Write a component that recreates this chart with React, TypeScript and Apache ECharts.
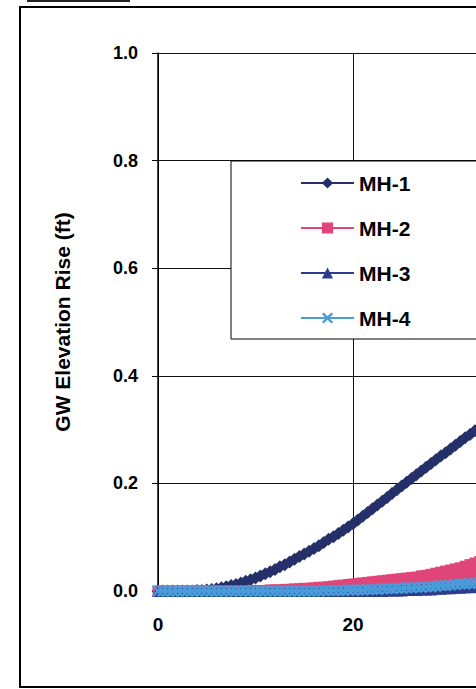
import React, { useEffect, useRef } from "react";
import * as echarts from "echarts";

// Time (x) values, read every 0.5 unit
const xs = [
  0, 0.5, 1, 1.5, 2, 2.5, 3, 3.5, 4, 4.5,
  5, 5.5, 6, 6.5, 7, 7.5, 8, 8.5, 9, 9.5,
  10, 10.5, 11, 11.5, 12, 12.5, 13, 13.5, 14, 14.5,
  15, 15.5, 16, 16.5, 17, 17.5, 18, 18.5, 19, 19.5,
  20, 20.5, 21, 21.5, 22, 22.5, 23, 23.5, 24, 24.5,
  25, 25.5, 26, 26.5, 27, 27.5, 28, 28.5, 29, 29.5,
  30, 30.5, 31, 31.5, 32, 32.5, 33, 33.5, 34,
];

const mh1 = [
  0, 0, 0, 0, 0, 0, 0, 0, 0.001, 0.001,
  0.002, 0.003, 0.004, 0.006, 0.008, 0.01, 0.012, 0.015, 0.018, 0.021,
  0.024, 0.028, 0.032, 0.036, 0.04, 0.045, 0.049, 0.054, 0.059, 0.064,
  0.069, 0.074, 0.079, 0.084, 0.09, 0.096, 0.101, 0.107, 0.113, 0.119,
  0.125, 0.132, 0.139, 0.146, 0.153, 0.16, 0.167, 0.174, 0.181, 0.188,
  0.195, 0.202, 0.209, 0.216, 0.223, 0.23, 0.237, 0.244, 0.251, 0.257,
  0.264, 0.271, 0.278, 0.285, 0.291, 0.298, 0.305, 0.311, 0.318,
];

const mh2 = [
  0, 0, 0, 0, 0, 0, 0, 0, 0, 0,
  0, 0, 0, 0, 0, 0, 0, 0, 0, 0,
  0.001, 0.001, 0.001, 0.002, 0.002, 0.002, 0.003, 0.003, 0.004, 0.004,
  0.005, 0.005, 0.006, 0.007, 0.007, 0.008, 0.009, 0.01, 0.011, 0.012,
  0.013, 0.014, 0.015, 0.016, 0.017, 0.018, 0.019, 0.02, 0.021, 0.022,
  0.023, 0.024, 0.025, 0.026, 0.028, 0.029, 0.031, 0.033, 0.035, 0.037,
  0.039, 0.041, 0.043, 0.046, 0.049, 0.052, 0.055, 0.058, 0.061,
];

const mh3 = [
  0, 0, 0, 0, 0, 0, 0, 0, 0, 0,
  0, 0, 0, 0, 0, 0, 0, 0, 0, 0,
  0, 0, 0, 0, 0, 0, 0, 0, 0, 0,
  0, 0, 0, 0, 0, 0, 0, 0, 0, 0,
  0, 0, 0, 0, 0, 0, 0, 0.001, 0.001, 0.001,
  0.001, 0.002, 0.002, 0.002, 0.003, 0.003, 0.003, 0.004, 0.004, 0.005,
  0.005, 0.006, 0.006, 0.007, 0.007, 0.008, 0.008, 0.009, 0.01,
];

const mh4 = [
  0, 0, 0, 0, 0, 0, 0, 0, 0, 0,
  0, 0, 0, 0, 0, 0, 0, 0, 0, 0,
  0, 0, 0, 0, 0, 0, 0, 0, 0, 0,
  0, 0, 0, 0, 0.001, 0.001, 0.001, 0.001, 0.001, 0.002,
  0.002, 0.002, 0.002, 0.003, 0.003, 0.003, 0.004, 0.004, 0.004, 0.005,
  0.005, 0.006, 0.006, 0.007, 0.007, 0.008, 0.008, 0.009, 0.01, 0.01,
  0.011, 0.012, 0.013, 0.013, 0.014, 0.015, 0.016, 0.017, 0.018,
];

const seriesNames = ["MH-1", "MH-2", "MH-3", "MH-4"];
const seriesValues = [mh1, mh2, mh3, mh4];
const yAxisTitle = "GW Elevation Rise (ft)";

export default function App() {
  const ref = useRef<HTMLDivElement>(null);

  useEffect(() => {
    if (!ref.current) return;
    const chart = echarts.init(ref.current, null, { renderer: "svg" });
    const font = 'Arial, "Liberation Sans", Helvetica, sans-serif';
    const pair = (vals: number[]) => xs.map((x, i) => [x, vals[i]]);
    const xMark =
      "path://M0,1.5L1.5,0L5,3.5L8.5,0L10,1.5L6.5,5L10,8.5L8.5,10L5,6.5L1.5,10L0,8.5L3.5,5Z";
    const colors = ["#25306A", "#E0457A", "#2E3C8C", "#4A9BD9"];
    const symbols = ["diamond", "rect", "triangle", xMark];
    const sizes = [13, 11, 12, 12];
    const widths = [3, 2, 2, 2];

    chart.setOption({
      animation: false,
      backgroundColor: "#ffffff",
      grid: { left: 158, top: 53, width: 390, height: 538 },
      xAxis: {
        type: "value",
        min: 0,
        max: 40,
        interval: 20,
        axisLine: { show: true, onZero: false, lineStyle: { color: "#000", width: 1 } },
        axisTick: { show: false },
        axisLabel: {
          margin: 24,
          color: "#000",
          fontSize: 19,
          fontWeight: "bold",
          fontFamily: font,
          showMaxLabel: false,
        },
        splitLine: { show: true, lineStyle: { color: "#111", width: 1 } },
      },
      yAxis: {
        type: "value",
        min: 0,
        max: 1,
        interval: 0.2,
        name: yAxisTitle,
        nameLocation: "middle",
        nameGap: 85,
        nameTextStyle: {
          color: "#000",
          fontSize: 21,
          fontWeight: "bold",
          fontFamily: font,
        },
        axisLine: { show: true, lineStyle: { color: "#000", width: 1.5 } },
        axisTick: { show: true, inside: false, length: 6, lineStyle: { color: "#000" } },
        axisLabel: {
          margin: 20,
          color: "#000",
          fontSize: 18,
          fontWeight: "bold",
          fontFamily: font,
          formatter: (v: number) => v.toFixed(1),
        },
        splitLine: { show: true, lineStyle: { color: "#111", width: 1 } },
      },
      legend: {
        data: seriesNames,
        orient: "vertical",
        left: 231,
        top: 161,
        padding: [11, 300, 10, 69],
        itemGap: 23,
        itemWidth: 53,
        itemHeight: 14,
        backgroundColor: "#ffffff",
        borderColor: "#000",
        borderWidth: 1,
        borderRadius: 0,
        textStyle: {
          color: "#000",
          fontSize: 21,
          fontWeight: "bold",
          fontFamily: font,
          lineHeight: 22,
        },
      },
      series: seriesNames.map((name, i) => ({
        name,
        type: "line",
        data: pair(seriesValues[i]),
        symbol: symbols[i],
        symbolSize: sizes[i],
        showSymbol: true,
        color: colors[i],
        itemStyle: { color: colors[i] },
        lineStyle: { color: colors[i], width: widths[i] },
        areaStyle: i === 1 ? { color: colors[i], opacity: 1 } : undefined,
        z: 2 + i,
      })),
      graphic: [
        {
          type: "rect",
          silent: true,
          z: 100,
          shape: { x: 20, y: 7, width: 900, height: 680 },
          style: { fill: "none", stroke: "#000", lineWidth: 2 },
        },
        {
          type: "line",
          silent: true,
          z: 100,
          shape: { x1: 27, y1: 1, x2: 130, y2: 1 },
          style: { stroke: "#222", lineWidth: 2 },
        },
      ],
    });

    return () => chart.dispose();
  }, []);

  return (
    <div
      style={{
        position: "fixed",
        left: 0,
        top: 0,
        width: 476,
        height: 689,
        overflow: "hidden",
        background: "#fff",
      }}
    >
      <div ref={ref} style={{ width: 800, height: 689 }} />
    </div>
  );
}
